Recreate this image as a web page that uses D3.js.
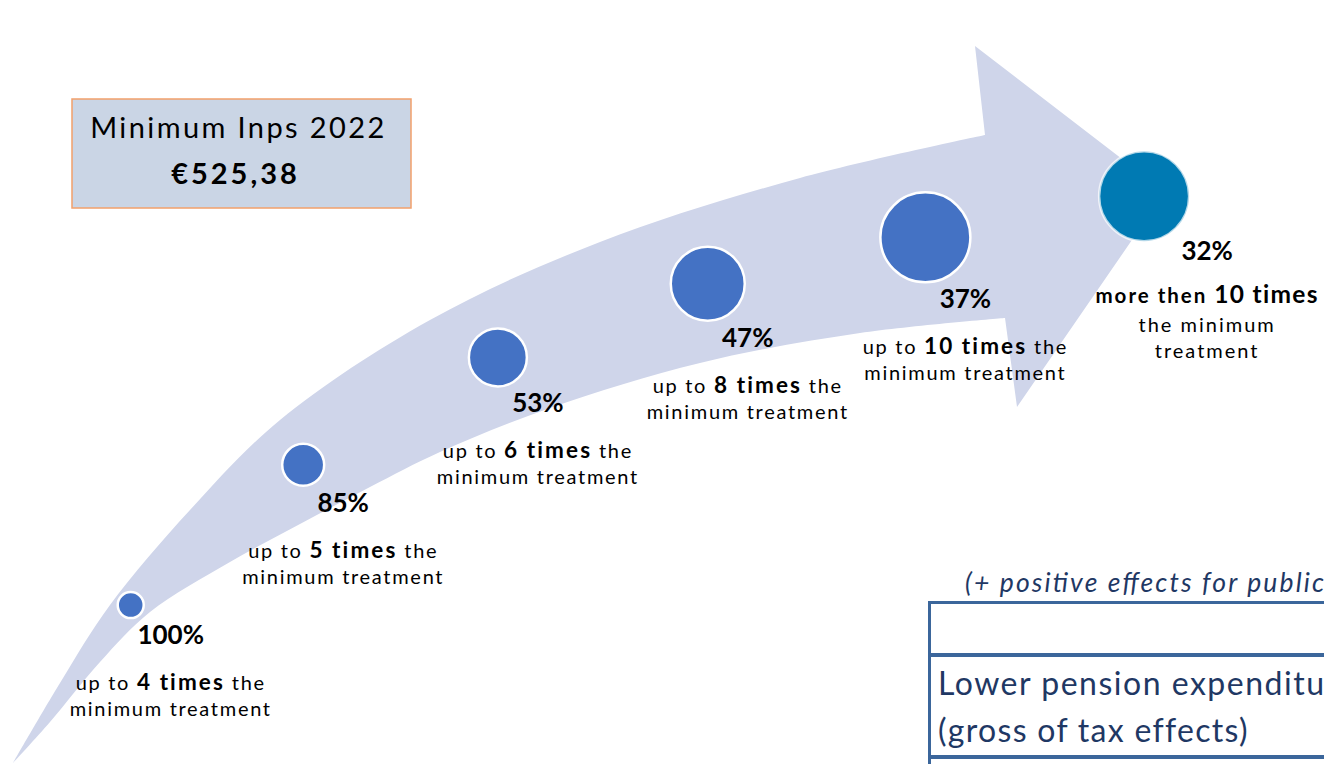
<!DOCTYPE html>
<html>
<head>
<meta charset="utf-8">
<script src="https://cdn.jsdelivr.net/npm/d3@7"></script>
<style>
  html, body { margin: 0; padding: 0; background: #ffffff; overflow: hidden; }
  svg { display: block; }
  text { font-family: Lato, "Open Sans", "DejaVu Sans", sans-serif; }
</style>
</head>
<body>
<svg id="chart" width="1324" height="764"></svg>
<script>
// Pension tiers: multiple of the INPS minimum treatment and share of pensioners in each tier
const tierPrefix   = ["up to", "up to", "up to", "up to", "up to", "more then"];
const tierMultiple = ["4", "5", "6", "8", "10", "10"];
const tierShare    = [100, 85, 53, 47, 37, 32];

// Reference amount
const minimumTitle = "Minimum Inps 2022";
const minimumValue = "€525,38";

// Table fragment at the lower right
const noteText = "(+ positive effects for public";
const tableRowLines = ["Lower pension expenditu", "(gross of tax effects)"];

// ---------------------------------------------------------------------------
const W = 1324, H = 764;
const svg = d3.select("#chart");

// Outline of the curved arrow (shaft edges from the tail point, then the head)
const upperEdge = [[13,763],[60,683],[110,605],[190,510],[280,420],[430,320],[600,242],[800,178],[985,135]];
const lowerEdge = [[13,763],[50,722],[100,662],[150,612],[230,562],[300,524],[370,487],[440,452],
                   [550,408],[700,363],[860,333],[1005,318]];
const arrowHead = [[985,135],[975,46],[1165,192],[1017,407],[1005,318]];

const edgeLine = d3.line().curve(d3.curveCatmullRom.alpha(0.5));
const upperD = edgeLine(upperEdge);
const lowerD = edgeLine(lowerEdge.slice().reverse());
const arrowD = upperD
  + arrowHead.slice(1).map(p => "L" + p[0] + "," + p[1]).join("")
  + "L" + lowerD.slice(1) + "Z";

svg.append("path")
  .attr("d", arrowD)
  .attr("fill", "#cfd5ea");

// Spine of the arrow: midpoint of the two edges, carried on to the tip
const helper = svg.append("g").attr("visibility", "hidden");
const upNode = helper.append("path").attr("d", edgeLine(upperEdge)).node();
const loNode = helper.append("path").attr("d", edgeLine(lowerEdge)).node();
const upLen = upNode.getTotalLength(), loLen = loNode.getTotalLength();
const spinePts = d3.range(0, 101).map(i => {
  const a = upNode.getPointAtLength(upLen * i / 100);
  const b = loNode.getPointAtLength(loLen * i / 100);
  return [(a.x + b.x) / 2, (a.y + b.y) / 2];
});
spinePts.push(arrowHead[2]);
const spineNode = helper.append("path").attr("d", d3.line()(spinePts)).node();
const spineLen = spineNode.getTotalLength();

// Scales: tier -> distance along the spine, tier -> bubble radius
const tiers = d3.range(tierShare.length);
const along = d3.scalePoint().domain(tiers).range([0.148 * spineLen, 0.984 * spineLen]);
const radius = d3.scaleLinear().domain([0, 4]).range([13, 45]).clamp(true);

const nodes = tiers.map(i => {
  const p = spineNode.getPointAtLength(along(i));
  return { i, x: p.x, y: p.y, r: radius(i), last: i === tiers.length - 1 };
});

// Bubbles
svg.append("g").selectAll("circle")
  .data(nodes)
  .join("circle")
  .attr("cx", d => d.x)
  .attr("cy", d => d.y)
  .attr("r", d => d.r)
  .attr("fill", d => d.last ? "#007ab3" : "#4472c4")
  .attr("stroke", "#ffffff")
  .attr("stroke-opacity", d => d.last ? 0.7 : 1)
  .attr("stroke-width", 2.5);

// Labels beneath each bubble
const labels = svg.append("g").selectAll("g")
  .data(nodes)
  .join("g")
  .attr("transform", d => d.last
    ? `translate(${d.x + 63},${d.y + d.r + 19})`
    : `translate(${d.x + 40},${d.y + d.r + 26})`);

labels.append("text")
  .attr("text-anchor", "middle")
  .attr("font-size", 26)
  .attr("font-weight", 700)
  .attr("fill", "#000000")
  .text(d => tierShare[d.i] + "%");

// first descriptive line
const line1 = labels.append("text")
  .attr("text-anchor", "middle")
  .attr("y", d => d.last ? 43 : 46)
  .attr("fill", "#000000");

line1.filter(d => !d.last).each(function(d) {
  const t = d3.select(this);
  t.append("tspan").attr("font-size", 20).attr("letter-spacing", 1.7).text(tierPrefix[d.i] + " ");
  t.append("tspan").attr("font-size", 22.5).attr("font-weight", 700).attr("letter-spacing", 2.1)
    .text(tierMultiple[d.i] + " times");
  t.append("tspan").attr("font-size", 20).attr("letter-spacing", 1.7).text(" the");
});
line1.filter(d => d.last).each(function(d) {
  const t = d3.select(this);
  t.append("tspan").attr("font-size", 20.5).attr("font-weight", 700).attr("letter-spacing", 2)
    .text(tierPrefix[d.i] + " ");
  t.append("tspan").attr("font-size", 24.5).attr("font-weight", 700).attr("letter-spacing", 1.3)
    .text(tierMultiple[d.i] + " times");
});

// remaining lines
labels.filter(d => !d.last).append("text")
  .attr("text-anchor", "middle")
  .attr("y", 72)
  .attr("font-size", 20)
  .attr("letter-spacing", 1.7)
  .attr("fill", "#000000")
  .text("minimum treatment");

const lastLines = labels.filter(d => d.last);
lastLines.append("text")
  .attr("text-anchor", "middle")
  .attr("y", 72)
  .attr("font-size", 20)
  .attr("letter-spacing", 2)
  .attr("fill", "#000000")
  .text("the minimum");
lastLines.append("text")
  .attr("text-anchor", "middle")
  .attr("y", 98)
  .attr("font-size", 20)
  .attr("letter-spacing", 2)
  .attr("fill", "#000000")
  .text("treatment");

// Minimum amount box
const box = { x: 72, y: 99, w: 339, h: 109 };
svg.append("rect")
  .attr("x", box.x).attr("y", box.y)
  .attr("width", box.w).attr("height", box.h)
  .attr("fill", "#cad5e5")
  .attr("stroke", "#f2a06b")
  .attr("stroke-width", 1.5);
svg.append("text")
  .attr("x", box.x + box.w / 2 - 3).attr("y", box.y + 39)
  .attr("text-anchor", "middle")
  .attr("font-size", 29)
  .attr("letter-spacing", 2.4)
  .attr("fill", "#000000")
  .text(minimumTitle);
svg.append("text")
  .attr("x", box.x + box.w / 2 - 6).attr("y", box.y + 85)
  .attr("text-anchor", "middle")
  .attr("font-size", 29)
  .attr("font-weight", 700)
  .attr("letter-spacing", 3)
  .attr("fill", "#000000")
  .text(minimumValue);

// Table fragment
const navy = "#1f3864", rule = "#3b669b";
svg.append("text")
  .attr("x", 965).attr("y", 592)
  .attr("font-size", 26.5)
  .attr("font-style", "italic")
  .attr("fill", navy)
  .attr("textLength", W - 965)
  .attr("lengthAdjust", "spacing")
  .text(noteText);

const table = svg.append("g");
table.append("line").attr("x1", 929).attr("x2", W).attr("y1", 602.5).attr("y2", 602.5)
  .attr("stroke", rule).attr("stroke-width", 3);
table.append("line").attr("x1", 929).attr("x2", W).attr("y1", 655).attr("y2", 655)
  .attr("stroke", rule).attr("stroke-width", 4);
table.append("line").attr("x1", 929).attr("x2", W).attr("y1", 757).attr("y2", 757)
  .attr("stroke", rule).attr("stroke-width", 4);
table.append("line").attr("x1", 929.5).attr("x2", 929.5).attr("y1", 601).attr("y2", H)
  .attr("stroke", rule).attr("stroke-width", 3);

table.append("text")
  .attr("x", 938).attr("y", 695)
  .attr("font-size", 32)
  .attr("fill", navy)
  .attr("textLength", W - 938)
  .attr("lengthAdjust", "spacing")
  .text(tableRowLines[0]);
table.append("text")
  .attr("x", 938).attr("y", 742)
  .attr("font-size", 32)
  .attr("letter-spacing", 1.3)
  .attr("fill", navy)
  .text(tableRowLines[1]);
</script>
</body>
</html>
